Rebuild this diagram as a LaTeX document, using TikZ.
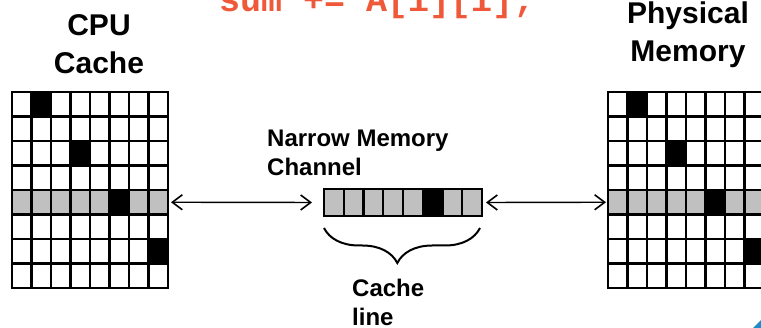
\documentclass[tikz,border=0pt]{standalone}
\usepackage{fontspec}
\setmainfont{Liberation Sans}
\newfontfamily\codefont{Liberation Mono}
\usetikzlibrary{arrows.meta,decorations.pathreplacing}
\definecolor{codeorange}{RGB}{240,88,58}
\definecolor{rowgray}{RGB}{192,192,192}
\definecolor{logoblue}{RGB}{30,140,200}
\newcommand\memgrid[3]{%
  % #1 x0, #2 y0, #3 name
  \node[gridbox, minimum width=156pt, minimum height=196pt] (#3) at (#1+78,#2+98) {};
  \node[gridbox, minimum width=156pt, minimum height=24.5pt] (#3row) at (#1+78,#2+110.25) {};
  \fill[rowgray] (#1,#2+98) rectangle ++(156,24.5);
  \foreach \r in {0,2,4,6}{
    \pgfmathsetmacro\cc{\r+1}
    \fill[black] (#1+\cc*19.5,#2+\r*24.5) rectangle ++(19.5,24.5);
  }
  \foreach \i in {0,...,8}{
    \draw[cellline] (#1+\i*19.5,#2) -- (#1+\i*19.5,#2+196);
    \draw[cellline] (#1,#2+\i*24.5) -- (#1+156,#2+\i*24.5);
  }
}
\begin{document}
\begin{tikzpicture}[x=1pt,y=-1pt,
  gridbox/.style={draw=none,inner sep=0pt,outer sep=0pt},
  cellline/.style={line width=2.3pt,line cap=rect,black},
  biarrow/.style={line width=1.4pt,{Straight Barb[length=10pt,width=15pt,line width=1.6pt]}-{Straight Barb[length=10pt,width=15pt,line width=1.6pt]}},
  title/.style={font=\fontsize{30}{38}\selectfont\bfseries,align=center,anchor=base,inner sep=0pt},
  label/.style={font=\fontsize{24}{29.5}\selectfont\bfseries,align=left,anchor=base west,inner sep=0pt}]
\useasboundingbox (0,0) rectangle (761,328);
\clip (0,0) rectangle (761,328);
\fill[white] (0,0) rectangle (761,328);

% code line (cut at the top)
\node[font=\codefont\bfseries\fontsize{35}{40}\selectfont,text=codeorange,anchor=base west,inner sep=0pt] (code) at (219,11.5) {sum += A[i][i];};

% titles (anchored at the baseline of the last line)
\node[title] (cpu) at (99,74) {CPU\\Cache};
\node[title] (phys) at (688,62) {Physical\\Memory};

% grids
\memgrid{12}{92}{lgrid}
\memgrid{608}{92}{rgrid}

% cache line
\node[gridbox, minimum width=158pt, minimum height=27pt] (cl) at (403,202.5) {};
\fill[rowgray] (324,189) rectangle (482,216);
\fill[black] (324+5*19.75,189) rectangle ++(19.75,27);
\foreach \i in {0,...,8}{
  \draw[cellline] (324+\i*19.75,189) -- (324+\i*19.75,216);
}
\draw[cellline] (324,189) -- (482,189);
\draw[cellline] (324,216) -- (482,216);

% arrows
\draw[biarrow, shorten <=3pt, shorten >=12pt] (lgridrow.east) -- (cl.west);
\draw[biarrow, shorten <=4pt, shorten >=2pt] (cl.east) -- (rgridrow.west);

% labels
\node[label] (narrow) at (267,176) {Narrow Memory\\Channel};
\coordinate (bl) at (324,228);
\coordinate (br) at (480,228);
\draw[line width=2pt,decorate,decoration={brace,amplitude=35pt,aspect=0.53}] (br) -- (bl);
\node[label] (cline) at (352,326) {Cache\\line};

% logo fragment
\fill[logoblue] (753,328) -- (761,320) -- (761,328) -- cycle;
\end{tikzpicture}
\end{document}
